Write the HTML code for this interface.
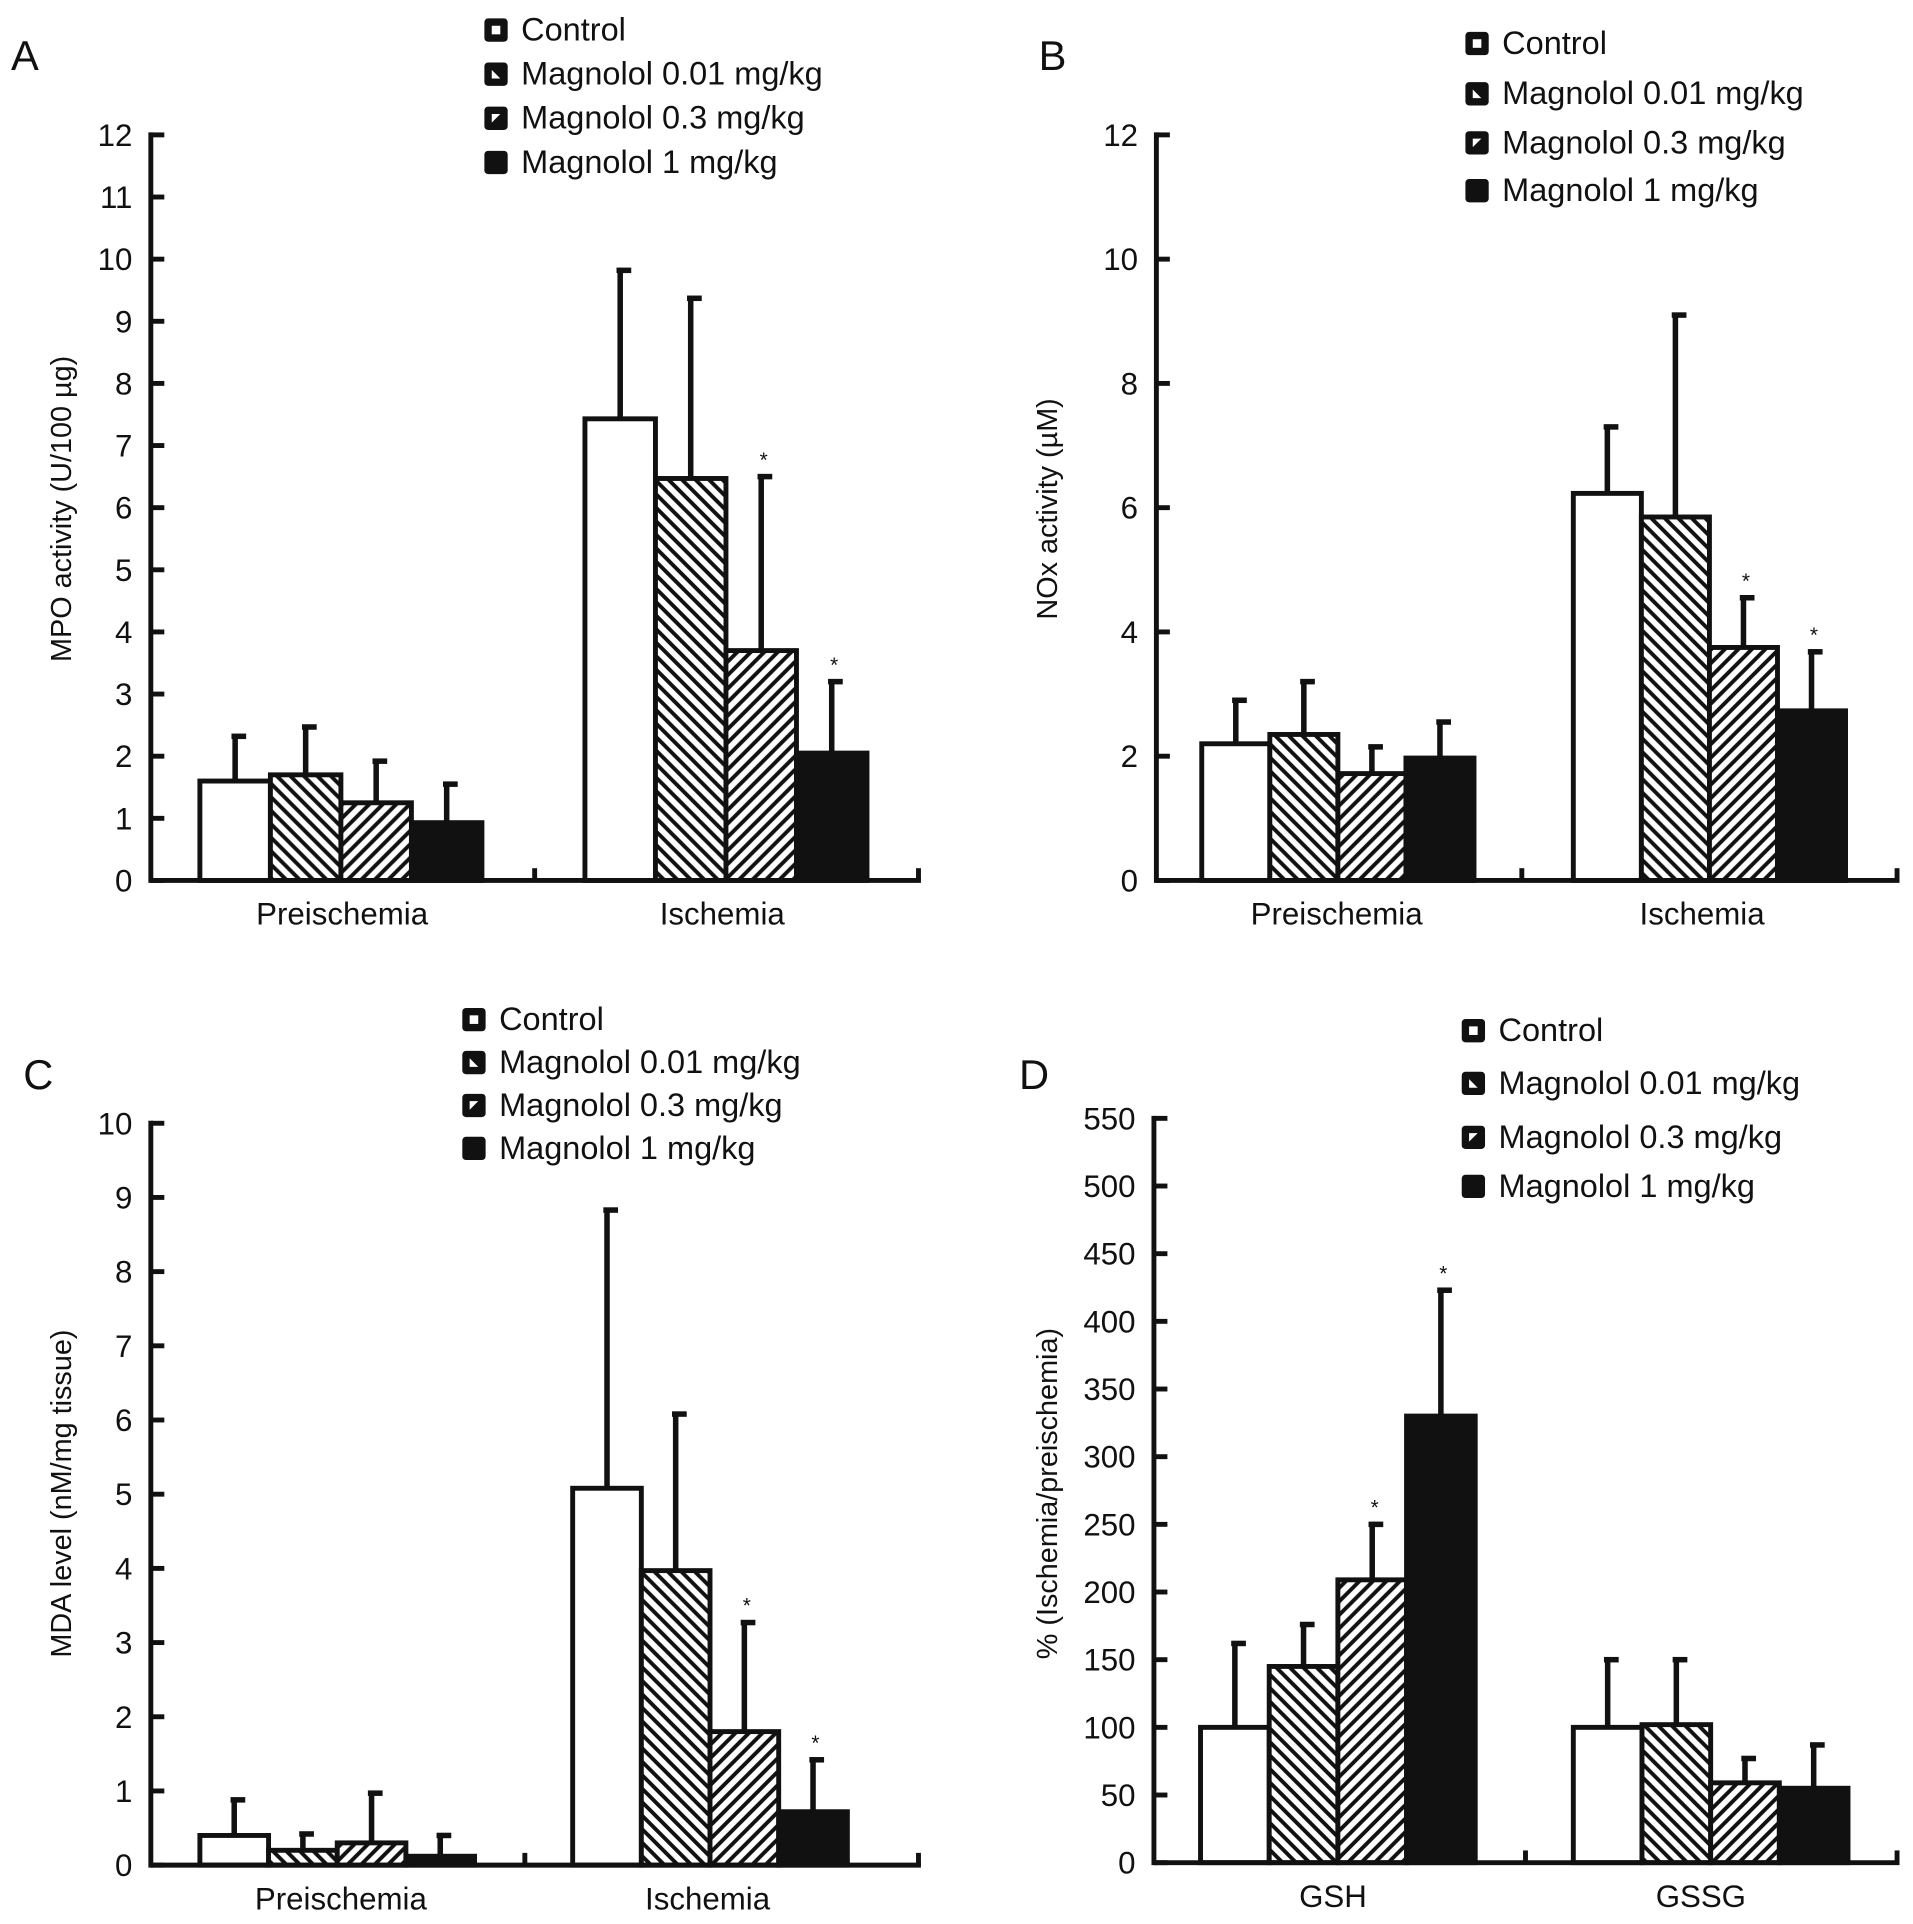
<!DOCTYPE html>
<html><head><meta charset="utf-8">
<style>
html,body{margin:0;padding:0;background:#fff;}
svg{display:block;}
text{font-family:"Liberation Sans",Arial,sans-serif;fill:#111;}
</style></head>
<body>
<svg id="fig" width="1913" height="1924" viewBox="0 0 1560 1569" preserveAspectRatio="none" xmlns="http://www.w3.org/2000/svg">
<defs>
<pattern id="hatchBack" patternUnits="userSpaceOnUse" width="11" height="11">
<rect width="11" height="11" fill="#fff"/>
<path d="M-3,-3 L14,14 M-3,8 L3,14 M8,-3 L14,3" stroke="#111" stroke-width="3.2"/>
</pattern>
<pattern id="hatchFwd" patternUnits="userSpaceOnUse" width="11" height="11">
<rect width="11" height="11" fill="#fff"/>
<path d="M-3,14 L14,-3 M-3,3 L3,-3 M8,14 L14,8" stroke="#111" stroke-width="3.2"/>
</pattern>
</defs>
</svg>
<script>
// ---- data ----
const seriesNames = ["Control","Magnolol 0.01 mg/kg","Magnolol 0.3 mg/kg","Magnolol 1 mg/kg"];
const aCategories = ["Preischemia","Ischemia"];
const aValues = [[1.6,1.7,1.25,0.93],[7.43,6.47,3.7,2.05]];
const aErrors = [[0.72,0.77,0.67,0.62],[2.39,2.9,2.8,1.15]];
const aStars = [[0,0,0,0],[0,0,1,1]];
const aTicks = [0,1,2,3,4,5,6,7,8,9,10,11,12];

const bCategories = ["Preischemia","Ischemia"];
const bValues = [[2.2,2.35,1.72,1.97],[6.23,5.85,3.75,2.73]];
const bErrors = [[0.7,0.85,0.43,0.58],[1.07,3.25,0.8,0.95]];
const bStars = [[0,0,0,0],[0,0,1,1]];
const bTicks = [0,2,4,6,8,10,12];

const cCategories = ["Preischemia","Ischemia"];
const cValues = [[0.4,0.2,0.3,0.12],[5.08,3.97,1.8,0.72]];
const cErrors = [[0.48,0.22,0.67,0.28],[3.75,2.11,1.47,0.7]];
const cStars = [[0,0,0,0],[0,0,1,1]];
const cTicks = [0,1,2,3,4,5,6,7,8,9,10];

const dCategories = ["GSH","GSSG"];
const dValues = [[100,145,209,330],[100,102,59,55]];
const dErrors = [[62,31,41,93],[50,48,18,32]];
const dStars = [[0,0,1,1],[0,0,0,0]];
const dTicks = [0,50,100,150,200,250,300,350,400,450,500,550];

const NS="http://www.w3.org/2000/svg";
const svg=document.getElementById('fig');
function el(tag,attrs,parent){const e=document.createElementNS(NS,tag);for(const k in attrs)e.setAttribute(k,attrs[k]);(parent||svg).appendChild(e);return e;}
const fills=["#fff","url(#hatchBack)","url(#hatchFwd)","#111"];

function panel(cfg){
  const g=el('g',{});
  
  
  const yMax=cfg.ticks[cfg.ticks.length-1];
  const y=v=>cfg.y0-(v/yMax)*(cfg.y0-cfg.yTop);
  const L=el('text',{x:cfg.letterX,y:cfg.letterY,'font-size':34},g);L.textContent=cfg.id.toUpperCase();
  
  
  for(let c=0;c<cfg.cats.length;c++){
    for(let s=0;s<4;s++){
      const x0=cfg.groupX[c]+s*cfg.bw;
      const v=cfg.vals[c][s],e=cfg.errs[c][s];
      const top=y(v), cx=x0+cfg.bw/2;
      const r=el('rect',{x:x0,y:top,width:cfg.bw,height:cfg.y0-top,fill:fills[s],stroke:'#111','stroke-width':4},g);
      
      
      const et=y(v+e);
      const ln=el('line',{x1:cx,y1:top,x2:cx,y2:et,stroke:'#111','stroke-width':4.5},g);
      
      
      el('line',{x1:cx-3,y1:et,x2:cx+9,y2:et,stroke:'#111','stroke-width':4.5},g);
      if(cfg.stars[c][s]){
        const st=el('text',{x:cx+2,y:et-8,'font-size':17,'text-anchor':'middle'},g);st.textContent='*';
        
        
      }
    }
    const xl=el('text',{x:cfg.catX[c],y:cfg.y0+36,'font-size':25.5,'text-anchor':'middle'},g);xl.textContent=cfg.cats[c];
    
    
  }
  el('line',{x1:cfg.ax,y1:cfg.y0,x2:cfg.xEnd,y2:cfg.y0,stroke:'#111','stroke-width':4},g);
  el('line',{x1:cfg.ax,y1:cfg.y0+2,x2:cfg.ax,y2:cfg.yTop-2,stroke:'#111','stroke-width':4},g);
  el('line',{x1:cfg.midTick,y1:cfg.y0,x2:cfg.midTick,y2:cfg.y0-10,stroke:'#111','stroke-width':4},g);
  el('line',{x1:cfg.xEnd-2,y1:cfg.y0,x2:cfg.xEnd-2,y2:cfg.y0-10,stroke:'#111','stroke-width':4},g);
  for(const t of cfg.ticks){
    el('line',{x1:cfg.ax,y1:y(t),x2:cfg.ax+11,y2:y(t),stroke:'#111','stroke-width':4},g);
    const tl=el('text',{x:cfg.ax-15,y:y(t)+9,'font-size':25.5,'text-anchor':'end'},g);tl.textContent=t;
    
    
  }
  const yl=el('text',{x:0,y:0,'font-size':23.5,'text-anchor':'middle',transform:`translate(${cfg.ylX},${cfg.ylY}) rotate(-90)`},g);
  yl.textContent=cfg.ylabel;
  
  
  for(let s=0;s<4;s++){
    const ly=cfg.legY[s];
    const lg=el('g',{},g);
    
    
    el('rect',{x:cfg.legX,y:ly-9,width:19,height:19,rx:3,fill:'#111'},lg);
    if(s===0) el('rect',{x:cfg.legX+6,y:ly-3,width:7,height:7,fill:'#fff'},lg);
    if(s===1) el('path',{d:`M${cfg.legX+6},${ly-3} L${cfg.legX+13},${ly+4} L${cfg.legX+6},${ly+4} Z`,fill:'#fff'},lg);
    if(s===2) el('path',{d:`M${cfg.legX+6},${ly-3} L${cfg.legX+13},${ly-3} L${cfg.legX+6},${ly+4} Z`,fill:'#fff'},lg);
    const tx=el('text',{x:cfg.legX+30,y:ly+9,'font-size':26.5},lg);tx.textContent=seriesNames[s];
  }
}

panel({id:'a',cats:aCategories,vals:aValues,errs:aErrors,stars:aStars,ticks:aTicks,
  ax:123,xEnd:751,y0:718,yTop:110,midTick:436,groupX:[163,477],bw:57.5,catX:[279,589],
  letterX:9,letterY:57,ylX:58,ylY:415,ylabel:'MPO activity (U/100 µg)',legX:395,legY:[24,60,96,132]});
panel({id:'b',cats:bCategories,vals:bValues,errs:bErrors,stars:bStars,ticks:bTicks,
  ax:943,xEnd:1549,y0:718,yTop:110,midTick:1241,groupX:[980,1283],bw:55.5,catX:[1090,1388],
  letterX:847,letterY:57,ylX:862,ylY:415,ylabel:'NOx activity (µM)',legX:1195,legY:[35,76,116,155]});
panel({id:'c',cats:cCategories,vals:cValues,errs:cErrors,stars:cStars,ticks:cTicks,
  ax:123,xEnd:751,y0:1521,yTop:916,midTick:428,groupX:[163,467],bw:56,catX:[278,577],
  letterX:19,letterY:888,ylX:58,ylY:1218,ylabel:'MDA level (nM/mg tissue)',legX:377,legY:[831,866,901,936]});
panel({id:'d',cats:dCategories,vals:dValues,errs:dErrors,stars:dStars,ticks:dTicks,
  ax:941,xEnd:1549,y0:1519,yTop:912,midTick:1244,groupX:[979,1283],bw:56,catX:[1087,1387],
  letterX:831,letterY:888,ylX:862,ylY:1218,ylabel:'% (Ischemia/preischemia)',legX:1192,legY:[840,883,927,967]});
</script>
</body></html>
